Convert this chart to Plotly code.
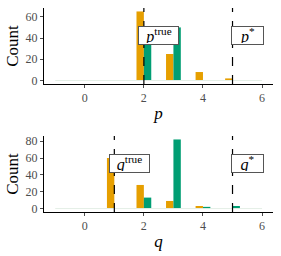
import plotly.graph_objects as go
from plotly.subplots import make_subplots

# Data
values = [-1, 0, 1, 2, 3, 4, 5, 6]
p_orange = [0, 0, 0, 65, 25, 8, 2, 0]
p_green = [0, 0, 0, 50, 50, 0, 0, 0]
q_orange = [0, 0, 60, 28, 9, 3, 0, 0]
q_green = [0, 0, 0, 13, 82, 2, 3, 0]
p_true, p_star = 2, 5
q_true, q_star = 1, 5
x_ticks = [0, 2, 4, 6]

ORANGE = "#E69F00"
GREEN = "#009E73"
FONT = "Liberation Serif"
TICK_COLOR = "#4d4d4d"

fig = make_subplots(rows=2, cols=1, vertical_spacing=0.255)

panels = [
    (1, p_orange, p_green, p_true, p_star, "p"),
    (2, q_orange, q_green, q_true, q_star, "q"),
]

for row, orange, green, vtrue, vstar, name in panels:
    fig.add_trace(go.Scatter(x=[values[0], values[-1]], y=[0, 0], mode="lines",
                             line=dict(color="#e4efe6", width=1),
                             showlegend=False, hoverinfo="skip"), row=row, col=1)
    fig.add_trace(go.Bar(x=values, y=orange, marker=dict(color=ORANGE, line=dict(width=0)),
                         showlegend=False), row=row, col=1)
    fig.add_trace(go.Bar(x=values, y=green, marker=dict(color=GREEN, line=dict(width=0)),
                         showlegend=False), row=row, col=1)
    ymax = max(max(orange), max(green))
    pad = 0.05 * ymax
    fig.update_yaxes(range=[-pad, ymax + pad], row=row, col=1)
    xref = "x" if row == 1 else "x2"
    yref = "y" if row == 1 else "y2"
    for v, sup in [(vtrue, "true"), (vstar, "*")]:
        fig.add_shape(type="line", x0=v, x1=v, y0=0, y1=1, xref=xref,
                      yref=yref + " domain",
                      line=dict(color="black", width=1.2, dash="dash"))
        fig.add_annotation(x=v + 0.5, y=0.65 * ymax, xref=xref, yref=yref,
                           text=f"<i>{name}</i><sup>{sup}</sup>", showarrow=False,
                           font=dict(family=FONT, size=16, color="black"),
                           width=37 if sup == "true" else 29, height=15,
                           bgcolor="white", bordercolor="#555555", borderwidth=1,
                           borderpad=1)
    fig.update_xaxes(title_text=f"<i>{name}</i>", row=row, col=1)
    fig.update_yaxes(title_text="Count", row=row, col=1)

fig.update_xaxes(range=[-1.38, 6.37], tickvals=x_ticks, showline=True, linecolor="black",
                 linewidth=1, ticks="outside", ticklen=3, tickcolor=TICK_COLOR,
                 showgrid=False, zeroline=False, automargin=False,
                 tickfont=dict(family=FONT, size=12, color=TICK_COLOR),
                 title_font=dict(family=FONT, size=17, color="black"), title_standoff=2)
fig.update_yaxes(showline=True, linecolor="black", linewidth=1, ticks="outside",
                 ticklen=3, tickcolor=TICK_COLOR, showgrid=False, zeroline=False,
                 automargin=False,
                 tickfont=dict(family=FONT, size=12, color=TICK_COLOR),
                 title_font=dict(family=FONT, size=17, color="black"), title_standoff=2)
fig.update_yaxes(dtick=20)

fig.update_layout(width=281, height=256, margin=dict(l=44, r=8, t=8, b=44),
                  barmode="group", bargap=0.5, bargroupgap=0,
                  plot_bgcolor="white", paper_bgcolor="white",
                  font=dict(family=FONT))

fig.write_html("out.html", config={"displayModeBar": False},
               post_script="document.body.style.margin='0';document.body.style.overflow='hidden';")
